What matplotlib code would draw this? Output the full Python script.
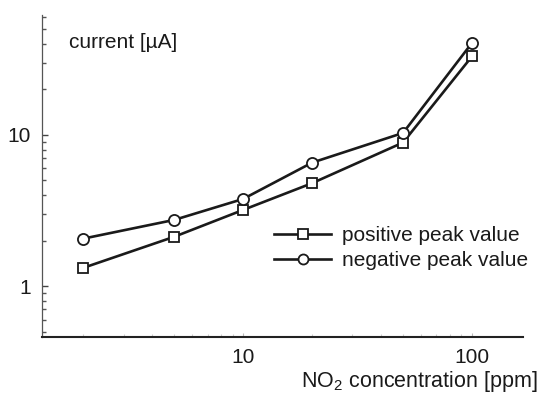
import matplotlib
matplotlib.use("Agg")
import matplotlib.pyplot as plt
from matplotlib.ticker import LogLocator, NullFormatter, FixedLocator, FixedFormatter

plt.rcParams['font.family'] = ['Liberation Sans', 'DejaVu Sans']
plt.rcParams['mathtext.fontset'] = 'custom'
plt.rcParams['mathtext.rm'] = 'Liberation Sans'
plt.rcParams['mathtext.it'] = 'Liberation Sans:italic'

concentration = [2, 5, 10, 20, 50, 100]
positive_peak = [1.32, 2.12, 3.19, 4.79, 8.9, 33.0]
negative_peak = [2.06, 2.74, 3.77, 6.55, 10.3, 40.5]
x_ticks = [10, 100]
x_tick_labels = ["10", "100"]
y_ticks = [1, 10]
y_tick_labels = ["1", "10"]

FS = 15

fig = plt.figure(figsize=(5.39, 3.97), dpi=100)
ax = fig.add_axes([0.078, 0.151, 0.892, 0.811])

ax.plot(concentration, positive_peak, color='#1a1a1a', lw=1.9, marker='s', ms=7.6,
        mfc='white', mec='#1a1a1a', mew=1.3, label='positive peak value', zorder=3)
ax.plot(concentration, negative_peak, color='#1a1a1a', lw=1.9, marker='o', ms=8.0,
        mfc='white', mec='#1a1a1a', mew=1.3, label='negative peak value', zorder=3)

ax.set_xscale('log')
ax.set_yscale('log')
ax.set_xlim(1.32, 167)
ax.set_ylim(0.46, 62)

for s in ['top', 'right']:
    ax.spines[s].set_visible(False)
ax.spines['left'].set_color('#555555')
ax.spines['left'].set_linewidth(0.9)
ax.spines['bottom'].set_color('#222222')
ax.spines['bottom'].set_linewidth(1.5)

ax.xaxis.set_major_locator(FixedLocator(x_ticks))
ax.xaxis.set_major_formatter(FixedFormatter(x_tick_labels))
ax.xaxis.set_minor_locator(LogLocator(base=10, subs=range(2, 10)))
ax.xaxis.set_minor_formatter(NullFormatter())
ax.yaxis.set_major_locator(FixedLocator(y_ticks))
ax.yaxis.set_major_formatter(FixedFormatter(y_tick_labels))
ax.yaxis.set_minor_locator(LogLocator(base=10, subs=range(2, 10)))
ax.yaxis.set_minor_formatter(NullFormatter())

ax.tick_params(axis='y', which='major', direction='in', length=4, width=1.0,
               color='#444444', pad=8, labelsize=FS, labelcolor='#1a1a1a')
ax.tick_params(axis='y', which='minor', direction='in', length=3, width=1.0,
               color='#555555')
ax.tick_params(axis='x', which='major', direction='in', length=3, width=0.8,
               color='#bbbbbb', pad=8, labelsize=FS, labelcolor='#1a1a1a')
ax.tick_params(axis='x', which='minor', direction='in', length=2.5, width=0.8,
               color='#cccccc')

fig.text(69 / 539, 1 - 43 / 397, 'current [\u00b5A]', fontsize=FS,
         color='#1a1a1a', ha='left', va='center')

fig.text(0.998, 0.038, 'NO$_2$ concentration [ppm]', fontsize=FS + 0.5,
         color='#1a1a1a', ha='right', va='center')

leg = ax.legend(loc='center left', bbox_to_anchor=(274 / 539, 1 - 248 / 397),
                bbox_transform=fig.transFigure, frameon=False, numpoints=1,
                fontsize=FS, handlelength=2.75, handletextpad=0.5,
                labelspacing=0.3, markerscale=0.9, borderaxespad=0, borderpad=0)
for t in leg.get_texts():
    t.set_color('#1a1a1a')

fig.savefig('out.png', dpi=100)
